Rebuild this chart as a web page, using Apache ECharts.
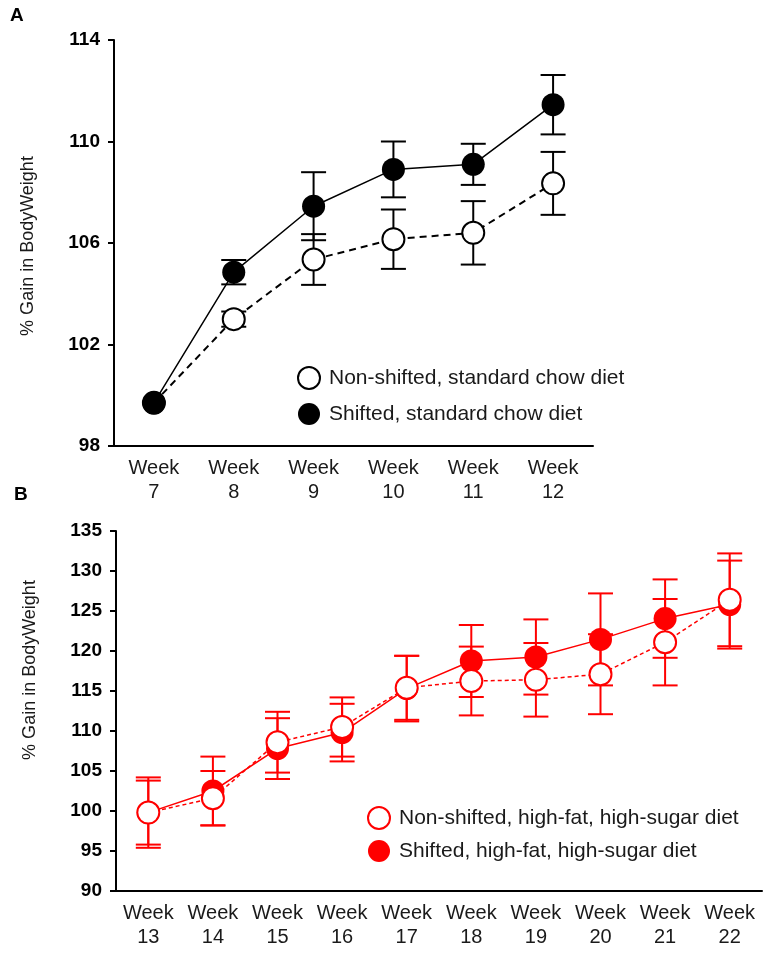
<!DOCTYPE html>
<html>
<head>
<meta charset="utf-8">
<script src="https://cdn.jsdelivr.net/npm/echarts@6/dist/echarts.min.js"></script>
<style>
html,body{margin:0;padding:0;background:#fff;}
#chart{width:768px;height:953px;}
</style>
</head>
<body>
<div id="chart"></div>
<script>
// ---- Panel A data ----
var weeksA = ['7', '8', '9', '10', '11', '12'];
var nonShiftedA = [99.7, 103.0, 105.35, 106.15, 106.4, 108.35];
var nonShiftedAErr = [0, 0.3, 1.0, 1.17, 1.25, 1.24];
var shiftedA = [99.7, 104.85, 107.45, 108.9, 109.1, 111.45];
var shiftedAErr = [0, 0.48, 1.34, 1.1, 0.81, 1.17];
var ticksA = [98, 102, 106, 110, 114];

// ---- Panel B data ----
var weeksB = ['13', '14', '15', '16', '17', '18', '19', '20', '21', '22'];
var nonShiftedB = [99.8, 101.6, 108.6, 110.5, 115.4, 116.25, 116.4, 117.1, 121.1, 126.4];
var nonShiftedBErr = [4.4, 3.4, 3.8, 3.7, 4.0, 4.3, 4.6, 5.0, 5.4, 5.8];
var shiftedB = [99.8, 102.5, 107.8, 109.8, 115.3, 118.75, 119.25, 121.45, 124.05, 125.8];
var shiftedBErr = [4.0, 4.3, 3.8, 3.6, 4.1, 4.5, 4.7, 5.75, 4.9, 5.5];

var namesA = ['Non-shifted, standard chow diet', 'Shifted, standard chow diet'];
var namesB = ['Non-shifted, high-fat, high-sugar diet', 'Shifted, high-fat, high-sugar diet'];

var FONT = "'Liberation Sans', Arial, sans-serif";
var RED = '#ff0000';

function errData(vals, errs) {
  return vals.map(function (v, i) { return [i, v - errs[i], v + errs[i], errs[i]]; });
}
function errRender(color) {
  return function (params, api) {
    if (api.value(3) <= 0) return null;
    var x = api.value(0);
    var pLo = api.coord([x, api.value(1)]);
    var pHi = api.coord([x, api.value(2)]);
    var w = 12.5;
    var st = { stroke: color, lineWidth: 2 };
    return {
      type: 'group',
      children: [
        { type: 'line', shape: { x1: pLo[0], y1: pLo[1], x2: pHi[0], y2: pHi[1] }, style: st },
        { type: 'line', shape: { x1: pHi[0] - w, y1: pHi[1], x2: pHi[0] + w, y2: pHi[1] }, style: st },
        { type: 'line', shape: { x1: pLo[0] - w, y1: pLo[1], x2: pLo[0] + w, y2: pLo[1] }, style: st }
      ]
    };
  };
}

var axisCommonX = {
  type: 'category',
  boundaryGap: true,
  axisLine: { lineStyle: { color: '#000', width: 2 } },
  axisTick: { length: 6, lineStyle: { color: '#000', width: 2 } },
  axisLabel: { color: '#1a1a1a', fontSize: 20, fontFamily: FONT, lineHeight: 24, margin: 10, interval: 0 },
  splitLine: { show: false }
};

var chart = echarts.init(document.getElementById('chart'), null, { renderer: 'canvas' });
var option = {
  animation: false,
  backgroundColor: '#fff',
  grid: [
    { left: 114, top: 40, width: 479, height: 406 },
    { left: 116, top: 531, width: 646, height: 360 }
  ],
  xAxis: [
    Object.assign({}, axisCommonX, { gridIndex: 0, data: weeksA.map(function (w) { return 'Week\n' + w; }) }),
    Object.assign({}, axisCommonX, { gridIndex: 1, data: weeksB.map(function (w) { return 'Week\n' + w; }) })
  ],
  yAxis: [
    {
      type: 'value', gridIndex: 0, min: 98, max: 114,
      axisLine: { show: true, lineStyle: { color: '#000', width: 2 } },
      axisTick: { show: true, length: 6, customValues: ticksA, lineStyle: { color: '#000', width: 2 } },
      axisLabel: { customValues: ticksA, color: '#000', fontWeight: 'bold', fontSize: 19, fontFamily: FONT, margin: 14 },
      splitLine: { show: false }
    },
    {
      type: 'value', gridIndex: 1, min: 90, max: 135, interval: 5,
      axisLine: { show: true, lineStyle: { color: '#000', width: 2 } },
      axisTick: { show: true, length: 6, lineStyle: { color: '#000', width: 2 } },
      axisLabel: { color: '#000', fontWeight: 'bold', fontSize: 19, fontFamily: FONT, margin: 14 },
      splitLine: { show: false }
    }
  ],
  legend: [
    {
      left: 297, top: 366, orient: 'vertical', itemWidth: 22, itemHeight: 22, itemGap: 13,
      selectedMode: false, padding: 0,
      textStyle: { fontSize: 21, fontFamily: FONT, color: '#1a1a1a', padding: [0, 0, 0, 4] },
      data: [
        { name: namesA[0], icon: 'circle', itemStyle: { color: '#fff', borderColor: '#000', borderWidth: 2 } },
        { name: namesA[1], icon: 'circle', itemStyle: { color: '#000', borderColor: '#000', borderWidth: 0 } }
      ]
    },
    {
      left: 367, top: 806, orient: 'vertical', itemWidth: 22, itemHeight: 22, itemGap: 10,
      selectedMode: false, padding: 0,
      textStyle: { fontSize: 21, fontFamily: FONT, color: '#1a1a1a', padding: [0, 0, 0, 4] },
      data: [
        { name: namesB[0], icon: 'circle', itemStyle: { color: '#fff', borderColor: RED, borderWidth: 2 } },
        { name: namesB[1], icon: 'circle', itemStyle: { color: RED, borderColor: RED, borderWidth: 0 } }
      ]
    }
  ],
  graphic: [
    { type: 'text', left: 10, top: 6, style: { text: 'A', font: 'bold 19px ' + FONT, fill: '#000' } },
    { type: 'text', left: 14, top: 485, style: { text: 'B', font: 'bold 19px ' + FONT, fill: '#000' } },
    { type: 'text', x: 28, y: 246, rotation: Math.PI / 2,
      style: { text: '% Gain in BodyWeight', font: '18px ' + FONT, fill: '#1a1a1a', align: 'center', verticalAlign: 'middle' } },
    { type: 'text', x: 30, y: 670, rotation: Math.PI / 2,
      style: { text: '% Gain in BodyWeight', font: '18px ' + FONT, fill: '#1a1a1a', align: 'center', verticalAlign: 'middle' } }
  ],
  series: [
    // Panel A error bars
    { type: 'custom', name: 'errA0', xAxisIndex: 0, yAxisIndex: 0, z: 2, data: errData(nonShiftedA, nonShiftedAErr), renderItem: errRender('#000'), encode: { x: 0, y: [1, 2] } },
    { type: 'custom', name: 'errA1', xAxisIndex: 0, yAxisIndex: 0, z: 2, data: errData(shiftedA, shiftedAErr), renderItem: errRender('#000'), encode: { x: 0, y: [1, 2] } },
    {
      type: 'line', name: namesA[0], xAxisIndex: 0, yAxisIndex: 0, z: 3, data: nonShiftedA,
      symbol: 'circle', symbolSize: 22,
      lineStyle: { color: '#000', width: 2, type: [7, 5] },
      itemStyle: { color: '#fff', borderColor: '#000', borderWidth: 2 }
    },
    {
      type: 'line', name: namesA[1], xAxisIndex: 0, yAxisIndex: 0, z: 4, data: shiftedA,
      symbol: 'circle', symbolSize: 23,
      lineStyle: { color: '#000', width: 1.5 },
      itemStyle: { color: '#000', borderColor: '#000', borderWidth: 0 }
    },
    // Panel B error bars
    { type: 'custom', name: 'errB0', xAxisIndex: 1, yAxisIndex: 1, z: 2, data: errData(nonShiftedB, nonShiftedBErr), renderItem: errRender(RED), encode: { x: 0, y: [1, 2] } },
    { type: 'custom', name: 'errB1', xAxisIndex: 1, yAxisIndex: 1, z: 2, data: errData(shiftedB, shiftedBErr), renderItem: errRender(RED), encode: { x: 0, y: [1, 2] } },
    {
      type: 'line', name: namesB[1], xAxisIndex: 1, yAxisIndex: 1, z: 3, data: shiftedB,
      symbol: 'circle', symbolSize: 23,
      lineStyle: { color: RED, width: 1.5 },
      itemStyle: { color: RED, borderColor: RED, borderWidth: 0 }
    },
    {
      type: 'line', name: namesB[0], xAxisIndex: 1, yAxisIndex: 1, z: 4, data: nonShiftedB,
      symbol: 'circle', symbolSize: 22,
      lineStyle: { color: RED, width: 1.5, type: [4, 3] },
      itemStyle: { color: '#fff', borderColor: RED, borderWidth: 2 }
    }
  ]
};
chart.setOption(option);
</script>
</body>
</html>
